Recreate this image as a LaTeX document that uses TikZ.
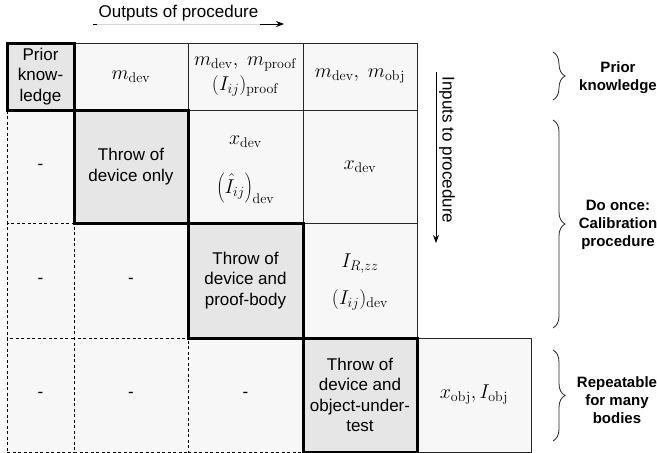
\RequirePackage{fix-cm}
\documentclass[tikz,border=0pt]{standalone}
\usepackage[no-math]{fontspec}
\setmainfont{Liberation Sans}
\usetikzlibrary{arrows.meta,decorations.pathreplacing}
\definecolor{lightcell}{HTML}{F7F7F7}
\definecolor{darkcell}{HTML}{E6E6E6}
\newcommand\cellfnt{\fontsize{17}{20.4}\selectfont}
\newcommand\mathfnt{\fontsize{20}{25}\selectfont}
\newcommand\lblfnt{\fontsize{15}{18}\selectfont\bfseries}
\begin{document}
\begin{tikzpicture}[x=1pt,y=-1pt,
  sz/.style 2 args={minimum width=#1pt, minimum height=#2pt},
  cellbase/.style={inner sep=0pt, align=center, font=\cellfnt},
  thincell/.style={cellbase, draw=black!85, line width=0.8pt, fill=lightcell, font=\mathfnt},
  dashcell/.style={cellbase, draw=black, line width=0.8pt, dash pattern=on 3pt off 2.5pt, fill=lightcell},
  thickcell/.style={cellbase, draw=black, line width=3pt, fill=darkcell},
  mtext/.style={font=\mathfnt, inner sep=0pt},
  lbl/.style={align=center, font=\lblfnt, inner sep=0pt},
  bracestyle/.style={draw=black!85, line width=0.8pt, decorate, decoration={brace, amplitude=12pt}},
  arrowstyle/.style={draw=black, line width=0.8pt, -{Stealth[length=8pt,width=6pt]}}
]
\fill[white] (0,0) rectangle (657,453);
\useasboundingbox (0,0) rectangle (657,453);

% thin cells
\node[thincell, sz={114}{67}] (r1c2) at (131,76.5) {$m_{\mathrm{dev}}$};
\node[thincell, sz={115}{67}] (r1c3) at (245.5,76.5) {$m_{\mathrm{dev}},\; m_{\mathrm{proof}}$\\$(I_{ij})_{\mathrm{proof}}$};
\node[thincell, sz={114}{67}] (r1c4) at (360,76.5) {$m_{\mathrm{dev}},\; m_{\mathrm{obj}}$};
\node[thincell, sz={115}{113}] (r2c3) at (245.5,166.5) {};
\node[mtext] (r2c3a) at (245.5,142) {$x_{\mathrm{dev}}$};
\node[mtext, anchor=base] (r2c3b) at (245.5,193) {$\left(\hat{I}_{ij}\right)_{\mathrm{dev}}$};
\node[thincell, sz={114}{113}] (r2c4) at (360,166.5) {$x_{\mathrm{dev}}$};
\node[thincell, sz={114}{115}] (r3c4) at (360,280.5) {};
\node[mtext] (r3c4a) at (360,264) {$I_{R,zz}$};
\node[mtext] (r3c4b) at (360,300) {$(I_{ij})_{\mathrm{dev}}$};
\node[thincell, sz={114}{114}] (r4c5) at (474,395) {$x_{\mathrm{obj}}, I_{\mathrm{obj}}$};

% dashed cells
\node[dashcell, sz={67}{113}] (r2c1) at (40.5,166.5) {-};
\node[dashcell, sz={67}{115}] (r3c1) at (40.5,280.5) {-};
\node[dashcell, sz={114}{115}] (r3c2) at (131,280.5) {-};
\node[dashcell, sz={67}{114}] (r4c1) at (40.5,395) {-};
\node[dashcell, sz={114}{114}] (r4c2) at (131,395) {-};
\node[dashcell, sz={115}{114}] (r4c3) at (245.5,395) {-};

% thick cells
\node[thickcell, sz={67}{67}] (pk) at (40.5,76.5) {Prior\\know-\\ledge};
\node[thickcell, sz={114}{113}] (t1) at (131,166.5) {Throw of\\device only};
\node[thickcell, sz={115}{115}] (t2) at (245.5,280.5) {Throw of\\device and\\proof-body};
\node[thickcell, sz={114}{114}] (t3) at (360,395) {Throw of\\device and\\object-under-\\test};

% outputs arrow
\coordinate (oa) at (93,24);
\coordinate (ob) at (284,24);
\draw[arrowstyle] (oa) -- (ob);
\node[fill=white, fill opacity=0.85, text opacity=1, font=\cellfnt, inner xsep=1.5pt, inner ysep=0pt, minimum height=22pt] (outl) at (178.5,13.5) {Outputs of procedure};

% inputs arrow
\coordinate (ia) at (436,72);
\coordinate (ib) at (436,243);
\draw[arrowstyle] (ia) -- (ib);
\node[rotate=-90, font=\cellfnt, inner sep=0pt] (inl) at (447,150) {Inputs to procedure};

% braces
\coordinate (b1a) at (553,52);  \coordinate (b1b) at (553,100);
\coordinate (b2a) at (553,120); \coordinate (b2b) at (553,328);
\coordinate (b3a) at (553,350); \coordinate (b3b) at (553,441);
\draw[bracestyle] (b1a) -- (b1b);
\draw[bracestyle] (b2a) -- (b2b);
\draw[bracestyle] (b3a) -- (b3b);
\node[lbl] (l1) at (618,78) {Prior\\knowledge};
\node[lbl] (l2) at (618,225) {Do once:\\Calibration\\procedure};
\node[lbl] (l3) at (617,400) {Repeatable\\for many\\bodies};
\end{tikzpicture}
\end{document}
